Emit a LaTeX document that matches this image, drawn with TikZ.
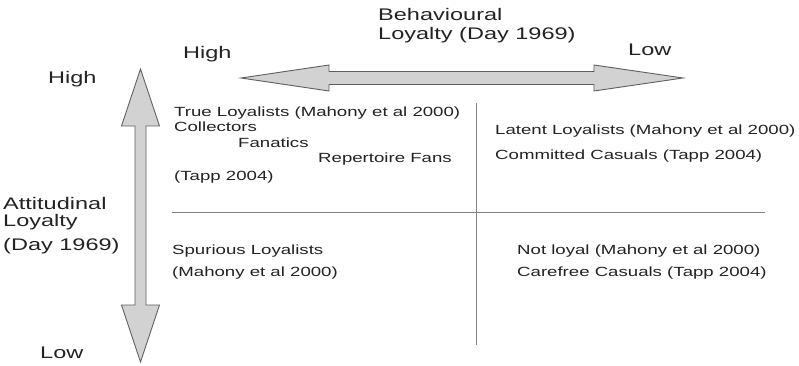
\documentclass[tikz,border=0pt]{standalone}
\usepackage{fontspec}
\setmainfont{Liberation Sans}[FakeStretch=1.4]
\begin{document}
\begin{tikzpicture}[x=1pt,y=-1pt,
  axislbl/.style={anchor=base west,inner sep=0pt,font=\fontsize{16.8}{18}\selectfont,text=txt},
  quadlbl/.style={anchor=base west,inner sep=0pt,font=\fontsize{13.3}{15}\selectfont,text=txt},
  bigarrow/.style={fill=arrowfill,draw=arrowline,line width=0.9pt,line join=miter},
  divider/.style={draw=divline,line width=1pt}]
\definecolor{txt}{RGB}{35,35,35}
\definecolor{arrowfill}{RGB}{210,210,210}
\definecolor{arrowline}{RGB}{95,95,95}
\definecolor{divline}{RGB}{130,130,130}
\useasboundingbox[fill=white] (0,0) rectangle (799,366);
% horizontal double arrow
\draw[bigarrow] (241,78) -- (329,65) -- (329,71.5) -- (594,71.5) -- (594,65) -- (683,78)
  -- (594,91) -- (594,84.5) -- (329,84.5) -- (329,91) -- cycle;
% vertical double arrow
\draw[bigarrow] (140.5,69) -- (159.5,126) -- (146,126) -- (146,305) -- (159.5,305) -- (140.5,362)
  -- (121.5,305) -- (135,305) -- (135,126) -- (121.5,126) -- cycle;
% quadrant dividers
\coordinate (vt) at (476,103);
\coordinate (vb) at (476,345);
\coordinate (hl) at (172,212);
\coordinate (hr) at (765,212);
\draw[divider] (vt) -- (vb);
\draw[divider] (hl) -- (hr);
% axis labels
\node[axislbl] (beh1) at (378,21) {Behavioural};
\node[axislbl] (beh2) at (378,40) {Loyalty (Day 1969)};
\node[axislbl] (hhigh) at (183,59) {High};
\node[axislbl] (hlow) at (628,56) {Low};
\node[axislbl] (vhigh) at (48,84) {High};
\node[axislbl] (att1) at (3,209) {Attitudinal};
\node[axislbl] (att2) at (3,226) {Loyalty};
\node[axislbl] (att3) at (3,250) {(Day 1969)};
\node[axislbl] (vlow) at (40,358) {Low};
% quadrant texts
\node[quadlbl] (tl1) at (174,117) {True Loyalists (Mahony et al 2000)};
\node[quadlbl] (tl2) at (174,132) {Collectors};
\node[quadlbl] (tl3) at (238,147) {Fanatics};
\node[quadlbl] (tl4) at (318,162) {Repertoire Fans};
\node[quadlbl] (tl5) at (174,180) {(Tapp 2004)};
\node[quadlbl] (tr1) at (495,135) {Latent Loyalists (Mahony et al 2000)};
\node[quadlbl] (tr2) at (495,159) {Committed Casuals (Tapp 2004)};
\node[quadlbl] (bl1) at (172,254) {Spurious Loyalists};
\node[quadlbl] (bl2) at (172,276) {(Mahony et al 2000)};
\node[quadlbl] (br1) at (517,254) {Not loyal (Mahony et al 2000)};
\node[quadlbl] (br2) at (517,276) {Carefree Casuals (Tapp 2004)};
\end{tikzpicture}
\end{document}
